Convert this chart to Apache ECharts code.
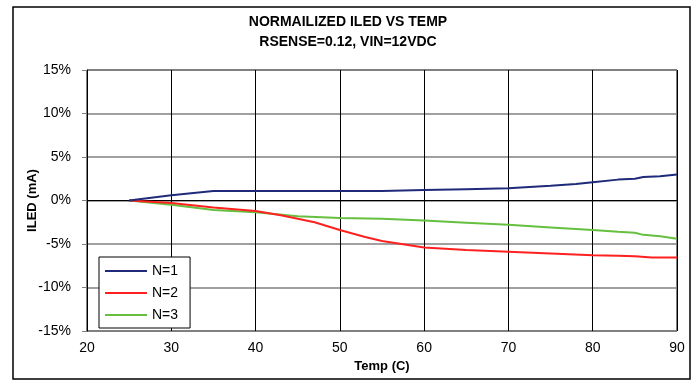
<!DOCTYPE html>
<html>
<head>
<meta charset="utf-8">
<script src="https://cdn.jsdelivr.net/npm/echarts@6/dist/echarts.min.js"></script>
<style>
  html, body { margin: 0; padding: 0; background: #fff; }
  #chart { width: 696px; height: 382px; }
</style>
</head>
<body>
<div id="chart"></div>
<script>
// values (temp in C, deviation in %)
const n1Temp = [25, 30, 35, 40, 45, 50, 55, 60, 65, 70, 75, 78, 80, 83, 85, 86, 88, 90];
const n1Val  = [0, 0.6, 1.1, 1.1, 1.1, 1.1, 1.1, 1.2, 1.3, 1.4, 1.7, 1.9, 2.1, 2.4, 2.5, 2.7, 2.8, 3.0];

const n2Temp = [25, 30, 35, 40, 43, 47, 50, 53, 55, 60, 65, 70, 75, 80, 83, 85, 87, 90];
const n2Val  = [0, -0.3, -0.8, -1.2, -1.7, -2.5, -3.4, -4.2, -4.65, -5.4, -5.7, -5.9, -6.1, -6.3, -6.35, -6.4, -6.55, -6.55];

const n3Temp = [25, 30, 35, 40, 45, 50, 55, 60, 65, 70, 75, 80, 83, 85, 86, 88, 90];
const n3Val  = [0, -0.5, -1.1, -1.35, -1.8, -2.0, -2.1, -2.3, -2.55, -2.8, -3.1, -3.4, -3.6, -3.7, -3.95, -4.1, -4.4];

const seriesNames = ['N=1', 'N=2', 'N=3'];
const seriesColors = ['#1f2a7a', '#ff2020', '#66c040'];

function pairs (xs, ys) {
  return xs.map((x, i) => [x, ys[i]]);
}

const chart = echarts.init(document.getElementById('chart'));
const font = 'Arial, "Liberation Sans", sans-serif';

const option = {
  animation: false,
  textStyle: { fontFamily: font },
  title: {
    text: 'NORMAILIZED ILED VS TEMP\nRSENSE=0.12, VIN=12VDC',
    left: 'center',
    top: 7,
    textStyle: { fontSize: 14, fontWeight: 'bold', color: '#000', lineHeight: 20, fontFamily: font }
  },
  graphic: [{
    type: 'rect',
    shape: { x: 13, y: 7, width: 677, height: 372 },
    style: { fill: 'none', stroke: '#000', lineWidth: 1.5 },
    silent: true
  }],
  grid: {
    left: 87, right: 19, top: 70, bottom: 51,
    show: true, borderColor: '#000', borderWidth: 1
  },
  legend: {
    orient: 'vertical',
    left: 99,
    top: 257,
    backgroundColor: '#fff',
    borderColor: '#000',
    borderWidth: 1,
    padding: [7, 12, 6, 6],
    itemWidth: 42,
    itemHeight: 14,
    itemGap: 8,
    icon: 'path://M0,0 L42,0 L42,2 L0,2 Z',
    textStyle: { fontSize: 14, color: '#000', fontFamily: font },
    data: seriesNames
  },
  xAxis: {
    type: 'value',
    min: 20, max: 90, interval: 10,
    name: 'Temp (C)',
    nameLocation: 'middle',
    nameGap: 28,
    nameTextStyle: { fontSize: 13, fontWeight: 'bold', color: '#000' },
    axisLine: { show: true, lineStyle: { color: '#000' } },
    axisTick: { show: true, length: 5, lineStyle: { color: '#000' } },
    axisLabel: { fontSize: 14, color: '#000', margin: 10 },
    splitLine: { show: true, lineStyle: { color: '#000', width: 1 } }
  },
  yAxis: {
    type: 'value',
    min: -15, max: 15, interval: 5,
    name: 'ILED (mA)',
    nameLocation: 'middle',
    nameGap: 48,
    nameMoveOverlap: false,
    nameTextStyle: { fontSize: 13, fontWeight: 'bold', color: '#000' },
    axisLine: { show: true, lineStyle: { color: '#000' } },
    axisTick: { show: true, length: 5, lineStyle: { color: '#808080' } },
    axisLabel: { fontSize: 14, color: '#000', margin: 16, formatter: '{value}%' },
    splitLine: { show: true, lineStyle: { color: '#808080', width: 1.5 } }
  },
  series: [
    { name: seriesNames[0], data: pairs(n1Temp, n1Val) },
    { name: seriesNames[1], data: pairs(n2Temp, n2Val) },
    { name: seriesNames[2], data: pairs(n3Temp, n3Val) }
  ].map((s, i) => ({
    ...s,
    type: 'line',
    symbol: 'none',
    color: seriesColors[i],
    lineStyle: { width: 2, color: seriesColors[i] },
    z: 3 - i
  }))
};

chart.setOption(option);
</script>
</body>
</html>
